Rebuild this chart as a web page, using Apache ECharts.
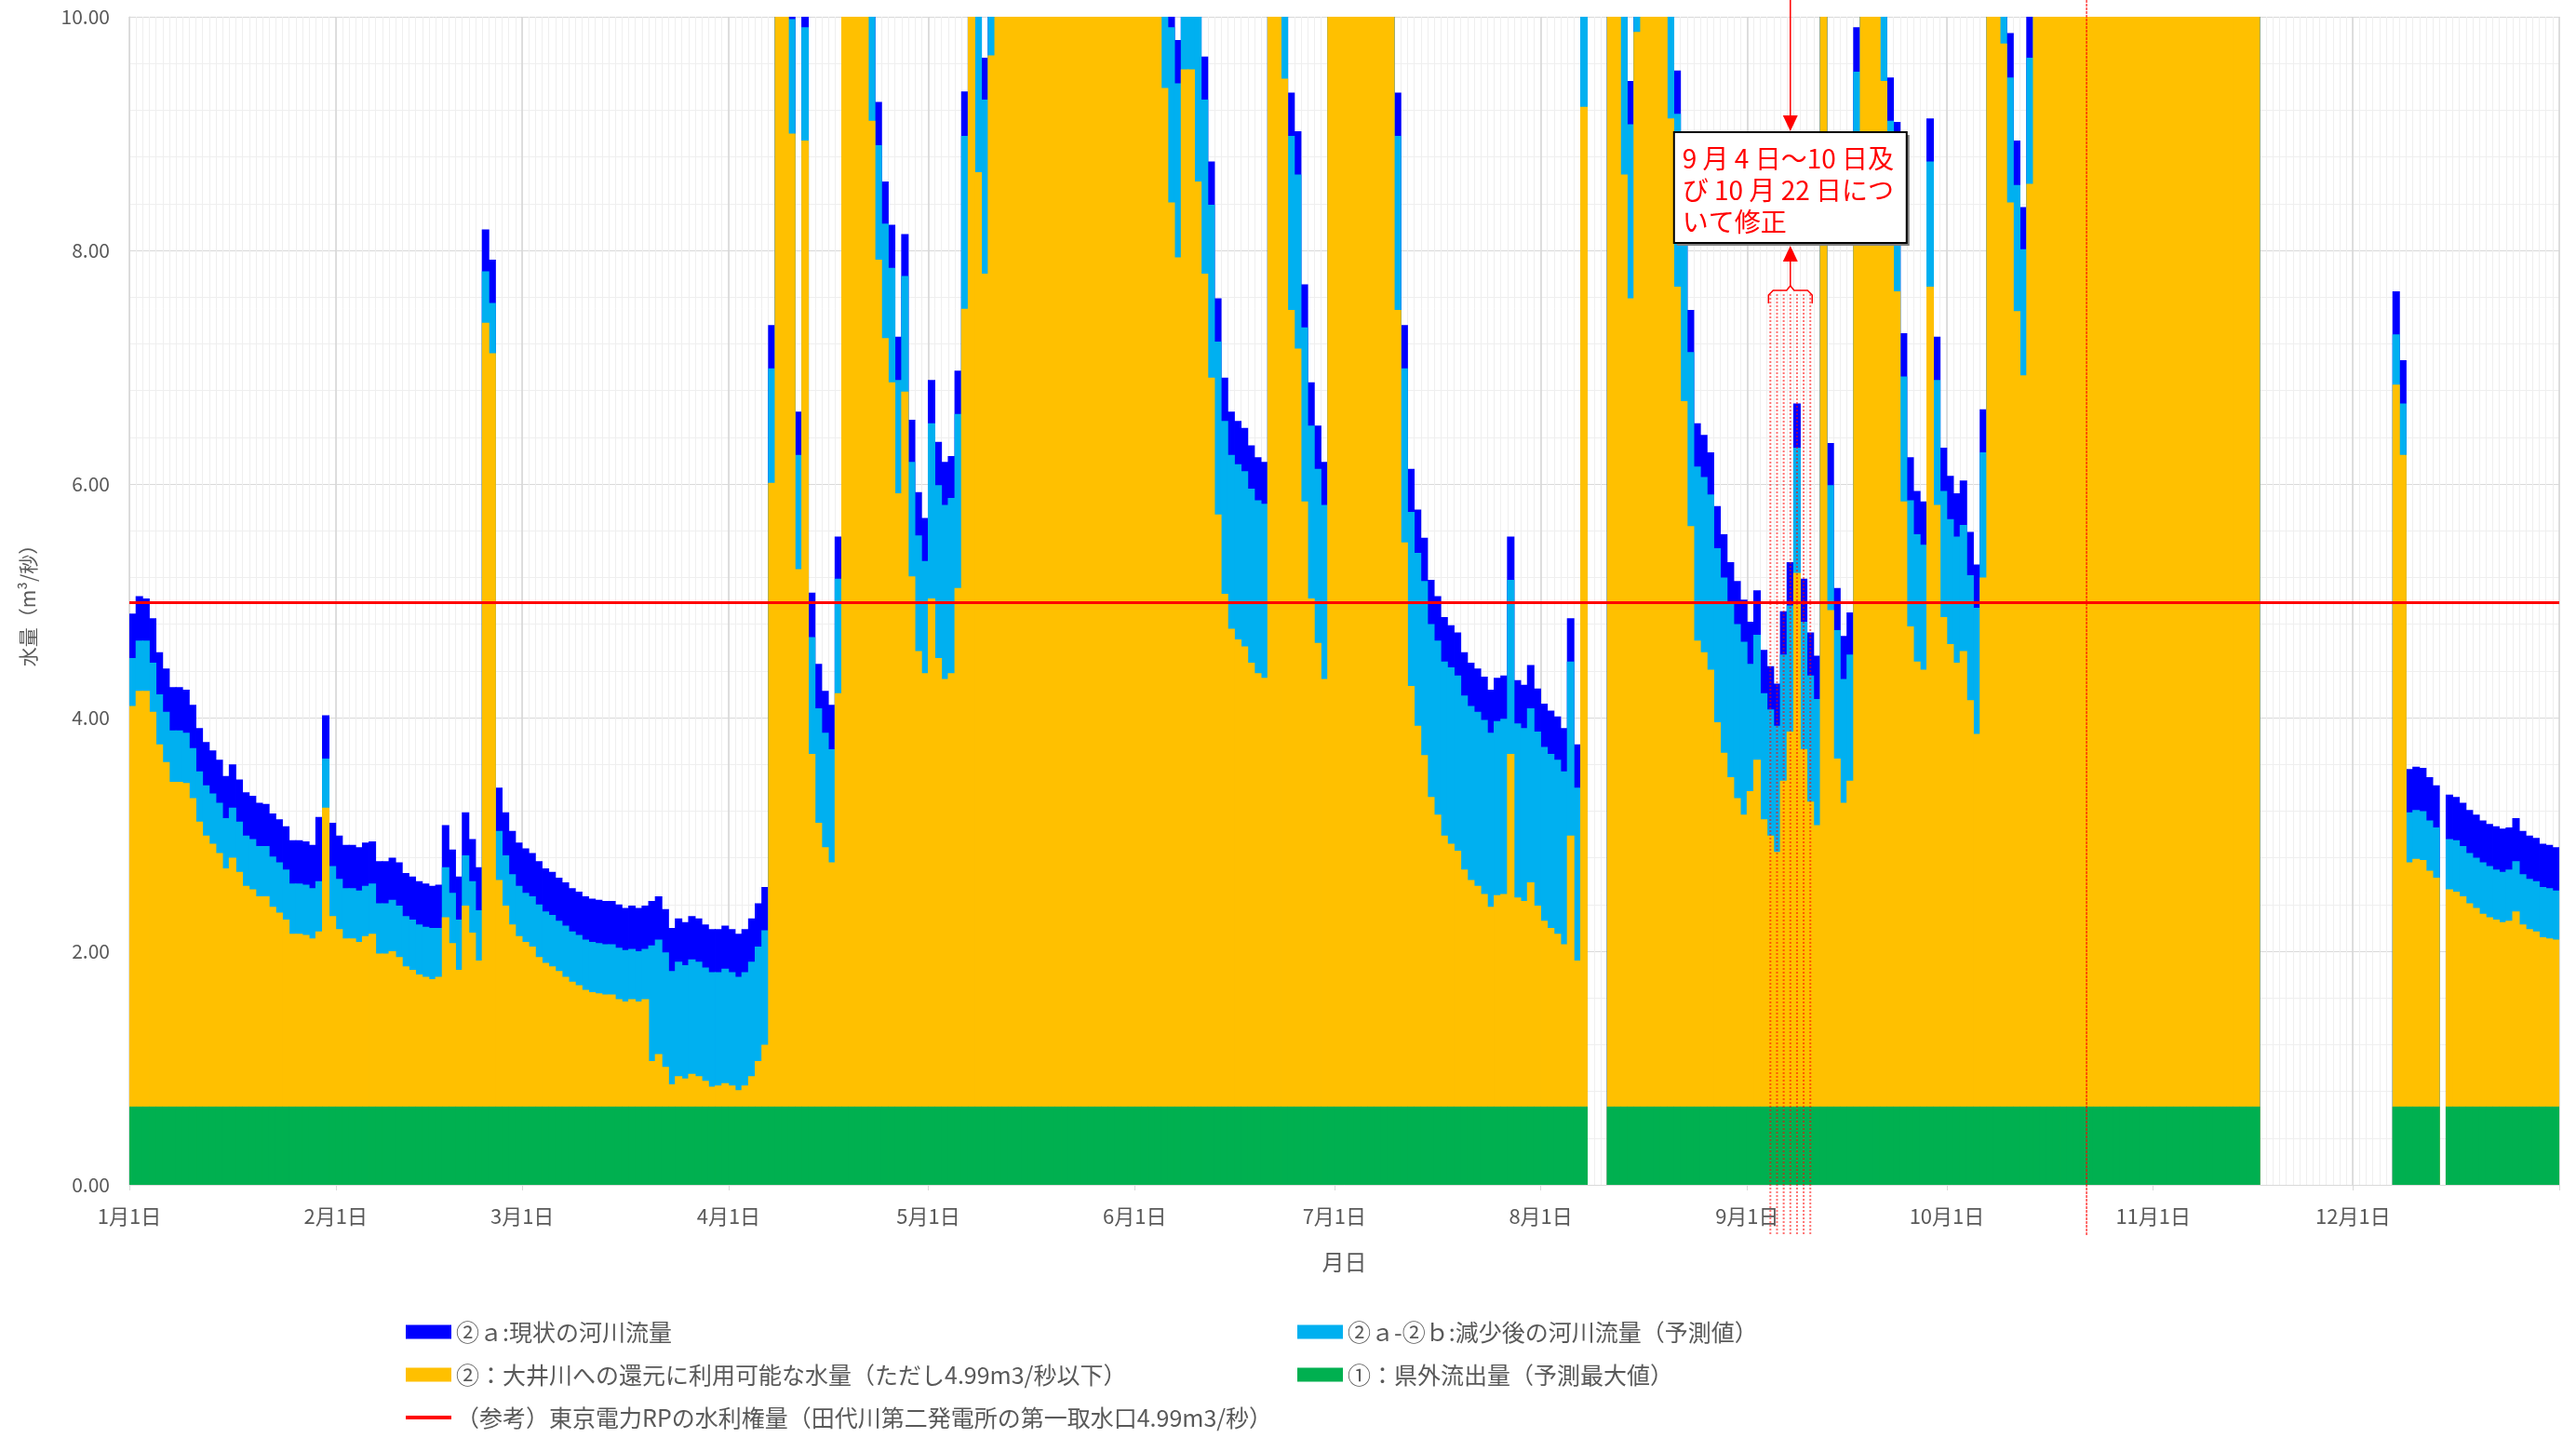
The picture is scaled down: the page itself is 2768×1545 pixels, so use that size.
<!DOCTYPE html>
<html>
<head>
<meta charset="utf-8">
<script src="https://cdn.jsdelivr.net/npm/echarts@6/dist/echarts.min.js"></script>
<style>
html, body { margin: 0; padding: 0; background: #fff; }
#chart { width: 2768px; height: 1545px; }
</style>
</head>
<body>
<div id="chart"></div>
<script>
// 日付カテゴリ (365日)
var monthDays = [31, 28, 31, 30, 31, 30, 31, 31, 30, 31, 30, 31];
var days = [];
var monthStarts = [];
for (var m = 0; m < 12; m++) {
    monthStarts.push(days.length);
    for (var d = 1; d <= monthDays[m]; d++) {
        days.push((m + 1) + '月' + d + '日');
    }
}

// ②a:現状の河川流量（積み上げの最上端）
var riverNow = [].concat(
    [4.89,5.04,5.02,4.85,4.56,4.42,4.26,4.26,4.24,4.11,3.91,3.79,3.72,3.64,3.50,3.60,3.47,3.36,3.33,3.27,3.26,3.18,3.13,3.07,2.95,2.95,2.94,2.91,3.15,4.02,3.10],
    [2.99,2.91,2.91,2.89,2.93,2.94,2.77,2.77,2.80,2.76,2.67,2.64,2.60,2.58,2.56,2.57,3.08,2.87,2.64,3.19,2.96,2.72,8.18,7.92,3.40,3.19,3.03,2.93],
    [2.88,2.84,2.77,2.71,2.68,2.63,2.59,2.54,2.51,2.47,2.45,2.44,2.43,2.43,2.40,2.37,2.39,2.37,2.39,2.43,2.47,2.36,2.20,2.28,2.25,2.30,2.28,2.23,2.19,2.19,2.22],
    [2.19,2.15,2.19,2.28,2.41,2.55,7.36,10,10,10,6.62,10,5.07,4.46,4.23,4.11,5.55,10,10,10,10,10,9.27,8.59,8.22,7.26,8.14,6.55,5.93,5.71],
    [6.89,6.36,6.19,6.24,6.97,9.36,10,10,9.65,10,10,10,10,10,10,10,10,10,10,10,10,10,10,10,10,10,10,10,10,10,10],
    [10,10,10,10,10,10,9.80,10,10,10,9.66,8.76,7.59,6.91,6.62,6.54,6.48,6.33,6.23,6.19,10,10,10,9.35,9.02,7.71,6.87,6.50,6.19,10],
    [10,10,10,10,10,10,10,10,10,9.35,7.36,6.13,5.78,5.54,5.18,5.04,4.86,4.79,4.73,4.56,4.47,4.42,4.35,4.24,4.34,4.36,5.55,4.32,4.28,4.45,4.25],
    [4.12,4.06,4.01,3.91,4.85,3.77,10,null,null,null,10,10,10,9.45,10,10,10,10,10,10,9.54,8.60,7.49,6.52,6.42,6.27,5.81,5.57,5.33,5.17,5.01],
    [4.82,5.09,4.58,4.44,4.29,4.91,5.33,6.69,5.19,4.73,4.53,10,6.35,5.11,4.70,4.90,9.91,10,10,10,10,9.48,9.10,7.29,6.23,5.94,5.85,9.13,7.26,6.31],
    [6.07,5.92,6.03,5.59,5.31,6.64,10,10,10,9.86,8.94,8.37,10,10,10,10,10,10,10,10,10,10,10,10,10,10,10,10,10,10,10],
    [10,10,10,10,10,10,10,10,10,10,10,10,10,10,10,10,null,null,null,null,null,null,null,null,null,null,null,null,null,null],
    [null,null,null,null,null,null,7.65,7.06,3.56,3.58,3.57,3.49,3.42,null,3.34,3.32,3.27,3.21,3.17,3.12,3.09,3.07,3.05,3.06,3.14,3.03,2.99,2.97,2.92,2.91,2.89]
);

// ②a-②b:減少後の河川流量（予測値）
var riverReduced = [].concat(
    [4.51,4.66,4.66,4.47,4.20,4.05,3.89,3.89,3.87,3.74,3.54,3.42,3.35,3.27,3.14,3.23,3.11,2.99,2.96,2.90,2.90,2.81,2.76,2.70,2.58,2.58,2.57,2.54,2.60,3.65,2.73],
    [2.62,2.54,2.54,2.52,2.56,2.58,2.41,2.41,2.44,2.39,2.30,2.27,2.23,2.21,2.20,2.20,2.72,2.50,2.27,2.82,2.60,2.35,7.82,7.55,3.03,2.82,2.66,2.56],
    [2.50,2.47,2.40,2.34,2.31,2.26,2.22,2.17,2.14,2.10,2.08,2.07,2.06,2.06,2.03,2.01,2.02,2.00,2.02,2.05,2.10,1.99,1.83,1.91,1.88,1.93,1.91,1.86,1.82,1.82,1.85],
    [1.82,1.78,1.82,1.91,2.04,2.18,6.99,10,10,9.98,6.25,9.91,4.69,4.08,3.87,3.73,5.19,10,10,10,10,10,8.90,8.23,7.85,6.89,7.78,6.19,5.56,5.34],
    [6.52,5.99,5.82,5.88,6.60,8.98,10,10,9.29,10,10,10,10,10,10,10,10,10,10,10,10,10,10,10,10,10,10,10,10,10,10],
    [10,10,10,10,10,9.91,9.43,10,10,10,9.29,8.39,7.22,6.54,6.25,6.17,6.11,5.96,5.86,5.83,10,10,10,8.98,8.65,7.34,6.50,6.13,5.82,10],
    [10,10,10,10,10,10,10,10,10,8.98,6.99,5.76,5.41,5.17,4.80,4.66,4.48,4.43,4.36,4.19,4.10,4.05,3.98,3.87,3.97,3.99,5.18,3.95,3.91,4.08,3.88],
    [3.75,3.69,3.64,3.54,4.48,3.40,10,null,null,null,10,10,10,9.08,10,10,10,10,10,10,9.17,8.20,7.13,6.15,6.06,5.91,5.45,5.20,4.98,4.80,4.65],
    [4.46,4.71,4.21,4.07,3.93,4.54,4.96,6.31,4.82,4.36,4.16,10,5.99,4.75,4.33,4.54,9.53,10,10,10,10,9.11,8.72,6.92,5.86,5.57,5.48,8.76,6.89,5.94],
    [5.70,5.55,5.65,5.22,4.94,6.27,10,10,10,9.48,8.56,8.01,9.65,10,10,10,10,10,10,10,10,10,10,10,10,10,10,10,10,10,10],
    [10,10,10,10,10,10,10,10,10,10,10,10,10,10,10,10,null,null,null,null,null,null,null,null,null,null,null,null,null,null],
    [null,null,null,null,null,null,7.28,6.69,3.19,3.21,3.20,3.12,3.06,null,2.96,2.95,2.90,2.84,2.80,2.76,2.73,2.70,2.68,2.70,2.77,2.66,2.62,2.60,2.55,2.54,2.52]
);

// ②:大井川への還元に利用可能な水量
var available = [].concat(
    [4.10,4.23,4.23,4.05,3.77,3.62,3.45,3.45,3.44,3.31,3.11,2.99,2.92,2.84,2.71,2.80,2.68,2.56,2.53,2.47,2.47,2.38,2.33,2.27,2.15,2.15,2.14,2.11,2.17,3.23,2.30],
    [2.19,2.11,2.11,2.08,2.13,2.15,1.98,1.98,2.00,1.95,1.87,1.84,1.80,1.78,1.76,1.78,2.29,2.07,1.84,2.39,2.16,1.92,7.38,7.12,2.61,2.39,2.23,2.13],
    [2.08,2.04,1.95,1.90,1.87,1.83,1.78,1.74,1.71,1.67,1.65,1.64,1.63,1.63,1.59,1.57,1.59,1.57,1.59,1.06,1.12,1.01,0.86,0.93,0.91,0.95,0.93,0.89,0.84,0.85,0.87],
    [0.85,0.81,0.85,0.93,1.06,1.20,6.01,10,10,9.00,5.27,8.94,3.69,3.10,2.89,2.76,4.21,10,10,10,10,9.11,7.92,7.25,6.87,5.92,6.79,5.21,4.57,4.38],
    [5.02,4.51,4.33,4.38,5.11,7.50,10,8.67,7.80,9.67,10,10,10,10,10,10,10,10,10,10,10,10,10,10,10,10,10,10,10,10,10],
    [10,10,10,10,9.39,8.41,7.94,9.55,9.55,8.59,7.80,6.91,5.74,5.06,4.76,4.67,4.61,4.47,4.38,4.34,10,10,9.47,7.49,7.16,5.85,5.02,4.64,4.33,10],
    [10,10,10,10,10,10,10,10,10,7.49,5.50,4.27,3.93,3.68,3.32,3.17,2.99,2.92,2.86,2.70,2.61,2.56,2.49,2.38,2.48,2.49,3.69,2.46,2.43,2.59,2.39],
    [2.26,2.20,2.15,2.06,2.99,1.92,9.23,null,null,null,10,10,8.65,7.59,9.87,10,10,10,10,9.13,7.69,6.71,5.64,4.66,4.56,4.41,3.96,3.70,3.49,3.31,3.17],
    [3.37,3.64,3.13,2.99,2.85,3.46,3.88,5.24,3.73,3.28,3.08,10,4.92,3.65,3.27,3.46,8.60,10,10,10,9.45,8.04,7.65,5.85,4.78,4.48,4.41,7.69,5.82,4.86],
    [4.63,4.47,4.57,4.15,3.86,5.20,10,10,9.77,8.41,7.48,6.93,8.57,10,10,10,10,10,10,10,10,10,10,10,10,10,10,10,10,10,10],
    [10,10,10,10,10,10,10,10,10,10,10,10,10,10,10,10,null,null,null,null,null,null,null,null,null,null,null,null,null,null],
    [null,null,null,null,null,null,6.85,6.25,2.76,2.79,2.78,2.69,2.63,null,2.53,2.51,2.47,2.41,2.37,2.32,2.29,2.27,2.25,2.26,2.34,2.23,2.19,2.17,2.12,2.11,2.10]
);

// ①:県外流出量（予測最大値）と参考の水利権量
var outflowMax = 0.67;
var waterRight = 4.99;
var outflow = available.map(function (v) { return v == null ? null : outflowMax; });

if (riverNow.length !== 365 || riverReduced.length !== 365 || available.length !== 365) {
    throw new Error('length ' + riverNow.length + ' ' + riverReduced.length + ' ' + available.length);
}

var nameNow = '②ａ:現状の河川流量';
var nameReduced = '②ａ-②ｂ:減少後の河川流量（予測値）';
var nameAvail = '②：大井川への還元に利用可能な水量（ただし4.99m3/秒以下）';
var nameOut = '①：県外流出量（予測最大値）';
var nameRight = '（参考）東京電力RPの水利権量（田代川第二発電所の第一取水口4.99m3/秒）';

var font = '"Noto Sans CJK JP", "Noto Sans", sans-serif';
var gray = '#595959';
var barW = 8; // 1日分より少し太くして棒の隙間を消す

function isMonthStart(index) {
    return monthStarts.indexOf(index) >= 0;
}

var chart = echarts.init(document.getElementById('chart'));

var legendText = { color: gray, fontSize: 25, lineHeight: 30, fontFamily: font };

option = {
    animation: false,
    textStyle: { fontFamily: font },
    grid: { left: 139, right: 18, top: 18, bottom: 272, containLabel: false },
    legend: [{
        left: 431, top: 1411, orient: 'vertical',
        itemWidth: 49, itemHeight: 15, itemGap: 16, itemTextGap: 6,
        icon: 'rect', selectedMode: false,
        data: [nameNow, nameAvail],
        textStyle: legendText
    }, {
        left: 1389, top: 1411, orient: 'vertical',
        itemWidth: 49, itemHeight: 15, itemGap: 16, itemTextGap: 6,
        icon: 'rect', selectedMode: false,
        data: [nameReduced, nameOut],
        textStyle: legendText
    }, {
        left: 431, top: 1503, orient: 'vertical',
        itemWidth: 49, itemHeight: 4, itemTextGap: 6,
        icon: 'rect', selectedMode: false,
        data: [nameRight],
        textStyle: legendText
    }],
    xAxis: [{
        type: 'category',
        data: days,
        boundaryGap: true,
        name: '月日',
        nameLocation: 'middle',
        nameGap: 71,
        nameTextStyle: { color: gray, fontSize: 24, fontFamily: font },
        axisLine: { lineStyle: { color: '#d9d9d9' } },
        axisTick: { show: true, interval: isMonthStart, length: 6, lineStyle: { color: '#d9d9d9' } },
        axisLabel: {
            interval: isMonthStart,
            color: gray, fontSize: 22, margin: 23,
            padding: [0, 7, 0, 0],
            fontFamily: font
        },
        splitLine: { show: true, interval: 0, lineStyle: { color: '#efefef', width: 1 } }
    }, {
        type: 'category',
        data: days,
        boundaryGap: true,
        position: 'bottom',
        axisLine: { show: false },
        axisTick: { show: false },
        axisLabel: { show: false },
        splitLine: { show: true, interval: isMonthStart, lineStyle: { color: '#d4d4d4', width: 1.5 } }
    }],
    yAxis: {
        type: 'value',
        min: 0,
        max: 10,
        interval: 2,
        name: '水量（m³/秒）',
        nameLocation: 'middle',
        nameRotate: 90,
        nameGap: 98,
        nameTextStyle: { color: gray, fontSize: 21, fontFamily: font },
        axisLine: { show: true, lineStyle: { color: '#d9d9d9' } },
        axisTick: { show: false },
        axisLabel: {
            color: gray, fontSize: 21, margin: 21,
            formatter: function (v) { return v.toFixed(2); }
        },
        splitLine: { show: true, lineStyle: { color: '#d9d9d9', width: 1 } },
        minorTick: { show: false, splitNumber: 5 },
        minorSplitLine: { show: true, lineStyle: { color: '#efefef', width: 1 } }
    },
    series: [{
        name: nameNow,
        type: 'bar',
        data: riverNow,
        barWidth: barW,
        barGap: '-100%',
        itemStyle: { color: '#0000ff' }
    }, {
        name: nameReduced,
        type: 'bar',
        data: riverReduced,
        barWidth: barW,
        barGap: '-100%',
        itemStyle: { color: '#00b0f0' }
    }, {
        name: nameAvail,
        type: 'bar',
        data: available,
        barWidth: barW,
        barGap: '-100%',
        itemStyle: { color: '#ffc000' }
    }, {
        name: nameOut,
        type: 'bar',
        data: outflow,
        barWidth: barW,
        barGap: '-100%',
        itemStyle: { color: '#00b050' }
    }, {
        name: nameRight,
        type: 'line',
        data: [],
        itemStyle: { color: '#ff0000' },
        lineStyle: { color: '#ff0000', width: 3 },
        markLine: {
            silent: true,
            symbol: 'none',
            label: { show: false },
            lineStyle: { color: '#ff0000', width: 3, type: 'solid' },
            data: [{ yAxis: waterRight }]
        }
    }]
};
chart.setOption(option);

// 注記（9月4日～10日、10月22日）
function px(i) {
    return chart.convertToPixel({ xAxisIndex: 0 }, i);
}
var band = px(1) - px(0);
var oct22 = px(294) - band / 2;
var xm = px(249);
var x1 = px(246);
var x2 = px(252);
var boxL = xm - 125, boxT = 142, boxW = 250, boxH = 119;
var red = '#ff0000';

var notes = [];
notes.push({
    type: 'line', z: 100,
    shape: { x1: oct22, y1: 0, x2: oct22, y2: 1328 },
    style: { stroke: red, lineWidth: 1.5, lineDash: [3, 1], opacity: 0.75 }
});
for (var i = 246; i <= 252; i++) {
    notes.push({
        type: 'line', z: 100,
        shape: { x1: px(i), y1: 316, x2: px(i), y2: 1328 },
        style: { stroke: red, lineWidth: 2, lineDash: [2, 2], opacity: 0.55 }
    });
}
notes.push({
    type: 'polyline', z: 100,
    shape: { points: [[x1 - 2, 326], [x1 - 2, 317], [x1 + 3, 312], [xm - 4, 312], [xm, 307], [xm + 4, 312], [x2 - 3, 312], [x2 + 2, 317], [x2 + 2, 326]] },
    style: { stroke: red, lineWidth: 1.5, fill: null }
});
notes.push({
    type: 'line', z: 100,
    shape: { x1: xm, y1: 307, x2: xm, y2: 280 },
    style: { stroke: red, lineWidth: 1.5 }
});
notes.push({
    type: 'polygon', z: 100,
    shape: { points: [[xm, 264], [xm - 8, 281], [xm + 8, 281]] },
    style: { fill: red }
});
notes.push({
    type: 'line', z: 100,
    shape: { x1: xm, y1: 0, x2: xm, y2: 126 },
    style: { stroke: red, lineWidth: 1.5 }
});
notes.push({
    type: 'polygon', z: 100,
    shape: { points: [[xm, 141], [xm - 8, 124], [xm + 8, 124]] },
    style: { fill: red }
});
notes.push({
    type: 'rect', z: 100,
    shape: { x: boxL + 3, y: boxT + 3, width: boxW, height: boxH },
    style: { fill: '#808080' }
});
notes.push({
    type: 'rect', z: 101,
    shape: { x: boxL, y: boxT, width: boxW, height: boxH },
    style: { fill: '#ffffff', stroke: '#000000', lineWidth: 2 }
});
notes.push({
    type: 'text', z: 102,
    x: boxL + 9, y: boxT + 11,
    style: {
        text: '9 月 4 日～10 日及\nび 10 月 22 日につ\nいて修正',
        fill: red, fontSize: 28, lineHeight: 34, fontFamily: font
    }
});
chart.setOption({ graphic: notes });
</script>
</body>
</html>
